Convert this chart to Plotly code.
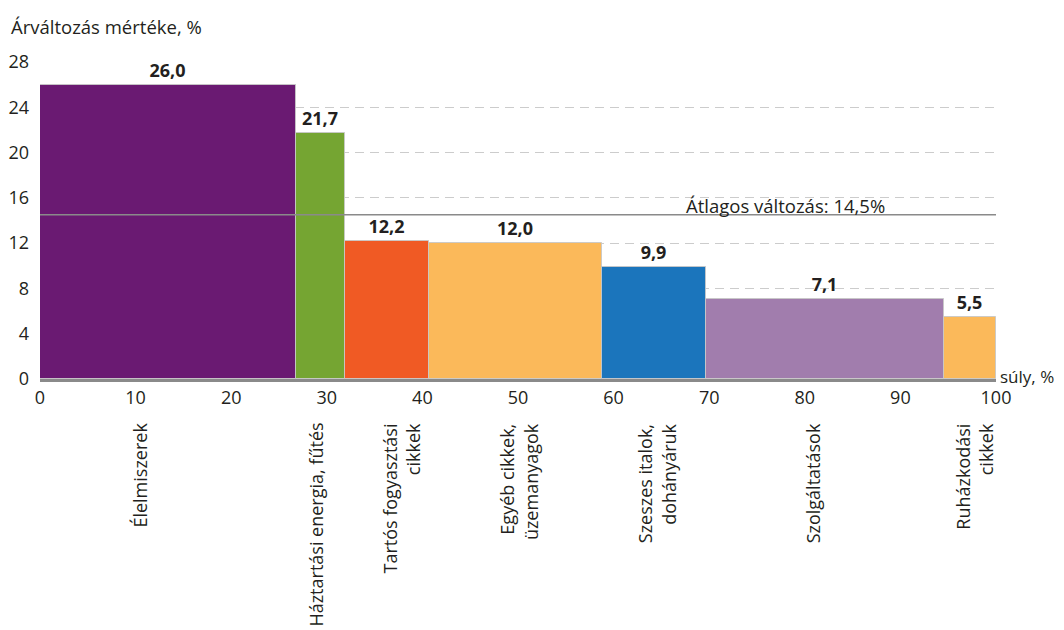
import plotly.graph_objects as go

categories = ["Élelmiszerek", "Háztartási energia, fűtés", "Tartós fogyasztási<br>cikkek",
              "Egyéb cikkek,<br>üzemanyagok", "Szeszes italok,<br>dohányáruk",
              "Szolgáltatások", "Ruházkodási<br>cikkek"]
weights = [26.8, 5.1, 8.8, 18.1, 10.9, 24.9, 5.4]   # súly, %
changes = [26.0, 21.7, 12.2, 12.0, 9.9, 7.1, 5.5]   # árváltozás, %
colors = ["#6a1a72", "#75a532", "#f05a24", "#fbb95a", "#1b75bc", "#a17dad", "#fbb95a"]
average = 14.5
x_ticks = [0, 10, 20, 30, 40, 50, 60, 70, 80, 90, 100]
y_ticks = [0, 4, 8, 12, 16, 20, 24, 28]

# horizontal pixel nudges of the rotated category labels (styling only)
label_nudge_px = [-29, -5, 14, 3, 2, -12, 4]

FONT = "Open Sans"
TXT = "#231f20"

starts = []
acc = 0.0
for w in weights:
    starts.append(acc)
    acc += w
centers = [s + w / 2 for s, w in zip(starts, weights)]

fig = go.Figure()
fig.add_trace(go.Bar(
    x=centers, y=changes, width=weights,
    marker=dict(color=colors, line=dict(color="rgba(200,200,200,0.9)", width=1)),
    text=[f"{v:.1f}".replace(".", ",") for v in changes],
    textposition="outside",
    textfont=dict(family=FONT, size=18, color=TXT, weight="bold"),
    cliponaxis=False,
    hoverinfo="skip",
))

# average line
fig.add_shape(type="line", xref="x", yref="y", x0=0, x1=100, y0=average, y1=average,
              line=dict(color="#8a8a8a", width=1.5), layer="above")
fig.add_annotation(x=78, y=average, xref="x", yref="y", yanchor="bottom",
                   text=f"Átlagos változás: {str(average).replace('.', ',')}%",
                   showarrow=False, borderpad=0, yshift=-4,
                   font=dict(family=FONT, size=18.5, color=TXT))

# category labels
for c, lab, dx in zip(centers, categories, label_nudge_px):
    fig.add_annotation(x=c, y=0, xref="x", yref="paper", yanchor="top", xanchor="center",
                       yshift=-42, xshift=dx, text=lab, textangle=-90, align="right",
                       showarrow=False, font=dict(family=FONT, size=18, color=TXT))

fig.add_annotation(x=1, y=0, xref="paper", yref="y", xanchor="left", yanchor="middle",
                   xshift=3, yshift=3, text="súly, %", showarrow=False, borderpad=0,
                   font=dict(family=FONT, size=17, color=TXT))
fig.add_annotation(x=0, y=1, xref="paper", yref="paper", xanchor="left", yanchor="middle",
                   xshift=-31, yshift=36, text="Árváltozás mértéke, %", showarrow=False,
                   font=dict(family=FONT, size=18.5, color=TXT))

# the page body has an 8px margin, so the figure is sized/offset to compensate
fig.update_layout(
    width=1056, height=622,
    margin=dict(l=32, r=68, t=54, b=251, autoexpand=False),
    paper_bgcolor="white", plot_bgcolor="white",
    showlegend=False, bargap=0,
    font=dict(family=FONT, size=18, color=TXT),
    xaxis=dict(range=[0, 100], tickvals=x_ticks, showgrid=False, zeroline=False,
               showline=True, linecolor="#8a8a8a", linewidth=3, ticks="",
               automargin=False,
               tickfont=dict(family=FONT, size=18, color=TXT), fixedrange=True),
    yaxis=dict(range=[0, 28], tickvals=y_ticks, showgrid=True, gridcolor="#cccccc",
               griddash="9px,6px", gridwidth=1, zeroline=False, showline=False, ticks="",
               ticklabelstandoff=10, automargin=False,
               tickfont=dict(family=FONT, size=18, color=TXT), fixedrange=True),
)

fig.write_html("out.html")
